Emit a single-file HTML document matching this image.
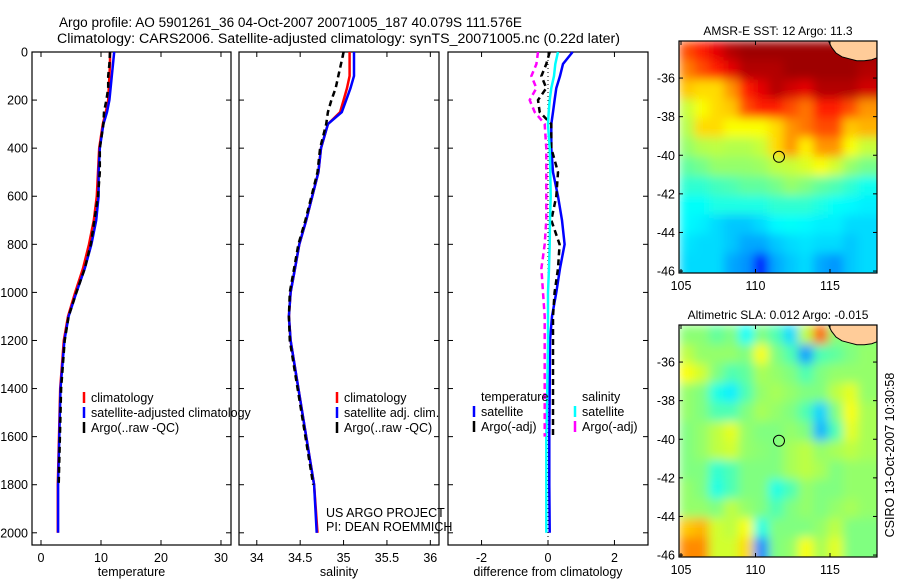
<!DOCTYPE html>
<html><head><meta charset="utf-8">
<style>
html,body{margin:0;padding:0;background:#fff;}
svg{display:block;font-family:"Liberation Sans",Arial,sans-serif;}
</style></head>
<body>
<svg id="fig" width="900" height="580" viewBox="0 0 900 580" xmlns="http://www.w3.org/2000/svg">
<defs>
<filter id="blur" x="0" y="0" width="1" height="1"><feGaussianBlur stdDeviation="5" edgeMode="duplicate"/></filter>
<clipPath id="clipSST"><rect x="679" y="41" width="198" height="232"/></clipPath>
<clipPath id="clipSLA"><rect x="679" y="325" width="198" height="232"/></clipPath>
</defs>
<g font-size="13.5" fill="#000">
<text x="59" y="27" textLength="463" lengthAdjust="spacingAndGlyphs">Argo profile: AO 5901261_36 04-Oct-2007 20071005_187 40.079S 111.576E</text>
<text x="57" y="43" textLength="563" lengthAdjust="spacingAndGlyphs">Climatology: CARS2006. Satellite-adjusted climatology: synTS_20071005.nc (0.22d later)</text>
</g>
<g id="plots"></g>
</svg>
<script>
// ---------------- data ----------------
const depths = [0,50,100,150,200,250,300,400,500,600,700,800,900,1000,1100,1200,1400,1600,1800,2000];
const tempClim = [11.5,11.5,11.4,11.3,11.2,10.8,10.3,9.7,9.5,9.3,8.8,8.0,7.0,5.7,4.5,3.8,3.2,3.0,2.8,2.8];
const tempSat  = [12.2,12.0,11.8,11.6,11.4,11.0,10.4,9.8,9.6,9.6,9.2,8.4,7.3,5.9,4.6,3.9,3.25,3.05,2.85,2.85];
const tempArgo = [11.5,11.4,11.2,11.2,10.9,10.5,10.4,9.8,9.8,9.5,8.9,8.3,7.3,5.9,4.6,3.95,3.35,3.15,2.95,null];
const salClim  = [35.07,35.07,35.07,35.04,35.0,34.96,34.82,34.74,34.71,34.64,34.57,34.49,34.44,34.39,34.37,34.39,34.48,34.57,34.66,34.70];
const salSat   = [35.12,35.12,35.12,35.08,35.03,34.98,34.82,34.74,34.71,34.64,34.57,34.49,34.44,34.39,34.37,34.39,34.48,34.57,34.66,34.69];
const salArgo  = [35.0,34.97,34.94,34.91,34.86,34.82,34.8,34.73,34.70,34.63,34.56,34.48,34.43,34.38,34.37,34.38,34.47,34.56,34.65,null];
const dTempSat = [0.74,0.45,0.36,0.25,0.2,0.15,0.1,0.1,0.15,0.3,0.42,0.5,0.36,0.25,0.12,0.06,0.05,0.04,0.04,0.05];
const dTempArgo= [0.05,-0.05,-0.2,-0.05,-0.3,-0.25,0.1,0.1,0.3,0.25,0.1,0.35,0.3,0.2,0.15,0.15,0.15,0.15,null,null];
const dSalSat  = [0.3,0.22,0.18,0.1,0.05,0.02,0.0,0.05,0.07,0.08,0.06,0.05,0.03,0.0,0.0,0.0,-0.02,-0.05,-0.05,-0.05];
const dSalArgo = [-0.3,-0.35,-0.5,-0.35,-0.55,-0.4,-0.1,-0.05,-0.05,-0.05,-0.05,-0.1,-0.2,-0.15,-0.1,-0.1,-0.1,-0.1,null,null];
const depthTicks = [0,200,400,600,800,1000,1200,1400,1600,1800,2000];
const tempTicks = [0,10,20,30];
const salTicks = [34,34.5,35,35.5,36];
const salTickLabels = ["34","34.5","35","35.5","36"];
const diffTicks = [-2,0,2];
// maps: rows lat -34..-46 (1 deg), cols lon 105..118 (1 deg); values normalised on jet colormap 0..1
const mapLonStart = 104.87, mapLatStart = -34.08;
const sstGrid = [
[0.8,0.85,0.9,0.95,0.97,0.97,0.97,0.97,0.97,0.97,0.97,0.97,0.97,0.97],
[0.75,0.8,0.85,0.9,0.95,0.95,0.95,0.97,0.97,0.97,0.97,0.97,0.95,0.95],
[0.68,0.66,0.66,0.73,0.85,0.9,0.95,0.92,0.9,0.95,0.95,0.95,0.92,0.92],
[0.57,0.62,0.66,0.68,0.8,0.85,0.85,0.8,0.76,0.85,0.85,0.8,0.73,0.73],
[0.55,0.66,0.66,0.62,0.62,0.62,0.66,0.73,0.76,0.8,0.8,0.68,0.7,0.7],
[0.52,0.55,0.56,0.55,0.55,0.57,0.66,0.73,0.64,0.73,0.73,0.62,0.57,0.57],
[0.47,0.49,0.52,0.52,0.52,0.53,0.56,0.57,0.59,0.62,0.58,0.52,0.49,0.49],
[0.42,0.42,0.44,0.45,0.47,0.47,0.49,0.52,0.5,0.47,0.45,0.42,0.39,0.39],
[0.38,0.38,0.4,0.4,0.4,0.4,0.42,0.42,0.42,0.4,0.38,0.37,0.36,0.36],
[0.37,0.36,0.34,0.32,0.32,0.34,0.37,0.38,0.37,0.36,0.36,0.34,0.34,0.34],
[0.35,0.34,0.34,0.32,0.29,0.29,0.32,0.34,0.35,0.34,0.34,0.32,0.34,0.34],
[0.34,0.34,0.34,0.29,0.27,0.14,0.29,0.32,0.34,0.29,0.27,0.32,0.34,0.34],
[0.34,0.34,0.34,0.29,0.27,0.14,0.29,0.32,0.34,0.29,0.27,0.32,0.34,0.34]];
const slaGrid = [
[0.51,0.51,0.47,0.5,0.38,0.5,0.45,0.34,0.56,0.78,0.51,0.51,0.51,0.51],
[0.56,0.52,0.52,0.52,0.5,0.62,0.5,0.45,0.28,0.45,0.47,0.5,0.52,0.52],
[0.62,0.58,0.5,0.45,0.47,0.54,0.52,0.5,0.45,0.5,0.52,0.52,0.52,0.52],
[0.52,0.5,0.4,0.36,0.45,0.52,0.54,0.52,0.5,0.5,0.56,0.6,0.52,0.52],
[0.52,0.5,0.45,0.45,0.5,0.54,0.52,0.5,0.45,0.33,0.5,0.62,0.54,0.54],
[0.5,0.52,0.56,0.6,0.52,0.5,0.5,0.52,0.5,0.3,0.45,0.6,0.54,0.54],
[0.5,0.52,0.56,0.58,0.52,0.51,0.5,0.54,0.56,0.52,0.54,0.56,0.54,0.54],
[0.5,0.5,0.42,0.45,0.5,0.5,0.5,0.54,0.56,0.54,0.5,0.52,0.52,0.52],
[0.52,0.5,0.4,0.45,0.5,0.5,0.4,0.45,0.52,0.5,0.5,0.52,0.52,0.52],
[0.52,0.52,0.5,0.56,0.52,0.5,0.45,0.5,0.52,0.5,0.52,0.54,0.52,0.52],
[0.68,0.7,0.58,0.56,0.62,0.4,0.5,0.5,0.5,0.52,0.56,0.5,0.5,0.5],
[0.74,0.74,0.58,0.58,0.66,0.26,0.5,0.52,0.62,0.54,0.6,0.5,0.5,0.5],
[0.74,0.74,0.58,0.58,0.66,0.26,0.5,0.52,0.62,0.54,0.6,0.5,0.5,0.5]];
const coastLon = [114.9,115.1,115.4,115.8,116.3,116.8,117.3,117.8,118.15,118.15,114.9];
const coastLat = [-34.08,-34.4,-34.7,-34.9,-35.0,-35.1,-35.1,-35.05,-34.95,-34.08,-34.08];
const argoLon = 111.576, argoLat = -40.079;
const mapLonTicks = [105,110,115];
const mapLatTicks = [-36,-38,-40,-42,-44,-46];

// ---------------- helpers ----------------
const NS = "http://www.w3.org/2000/svg";
const root = document.getElementById('plots');
function mk(tag, attrs, parent){ const e=document.createElementNS(NS,tag); for(const k in attrs) e.setAttribute(k,attrs[k]); (parent||root).appendChild(e); return e; }
const yTop=52, yPer=0.2404;
function yD(d){ return yTop + d*yPer; }
function jet(v){
  v=Math.max(0,Math.min(1,v));
  const r=Math.max(0,Math.min(1,Math.min(4*v-1.5,-4*v+4.5)));
  const g=Math.max(0,Math.min(1,Math.min(4*v-0.5,-4*v+3.5)));
  const b=Math.max(0,Math.min(1,Math.min(4*v+0.5,-4*v+2.5)));
  return `rgb(${Math.round(r*255)},${Math.round(g*255)},${Math.round(b*255)})`;
}

function panel(name,x0,x1,vmin,vmax,ticks,tickLabels,xlabel,showY){
  const g=mk('g',{});
  
  
  const xs=v=>x0+(v-vmin)/(vmax-vmin)*(x1-x0);
  const box=mk('rect',{x:x0,y:52,width:x1-x0,height:493,fill:'none',stroke:'#000','stroke-width':1.2},g);
  
  
  ticks.forEach((t,i)=>{
    const X=xs(t);
    mk('line',{x1:X,x2:X,y1:545,y2:540,stroke:'#000'},g);
    mk('line',{x1:X,x2:X,y1:52,y2:57,stroke:'#000'},g);
    const tl=mk('text',{x:X,y:562,'font-size':12.5,'text-anchor':'middle'},g);
    tl.textContent=tickLabels[i];
    
    
  });
  depthTicks.forEach(d=>{
    const Y=yD(d);
    mk('line',{x1:x0,x2:x0+5,y1:Y,y2:Y,stroke:'#000'},g);
    mk('line',{x1:x1,x2:x1-5,y1:Y,y2:Y,stroke:'#000'},g);
    if(showY){
      const tl=mk('text',{x:28,y:Y+4.5,'font-size':12.5,'text-anchor':'end'},g);
      tl.textContent=String(d);
      
      
    }
  });
  const xl=mk('text',{x:(x0+x1)/2,y:576,'font-size':12.5,'text-anchor':'middle'},g);
  xl.textContent=xlabel;
  
  
  return {g,xs};
}
function series(p,vals,color,dash,width,nm){
  let d='';
  depths.forEach((dep,i)=>{ const v=vals[i]; if(v===null||v===undefined) return; d+=(d?'L':'M')+p.xs(v).toFixed(1)+','+yD(dep).toFixed(1); });
  const a={d:d,fill:'none',stroke:color,'stroke-width':width};
  if(dash) a['stroke-dasharray']=dash;
  const e=mk('path',a,p.g);
  
  
}
function legend(p,x,y,items){
  items.forEach((it,i)=>{
    const Y=y+i*15;
    if(it.c){ mk('line',{x1:x,x2:x,y1:Y-10,y2:Y+1,stroke:it.c,'stroke-width':2.5},p.g); }
    const t=mk('text',{x:x+7,y:Y,'font-size':12.5},p.g);
    t.textContent=it.t;
    
    
  });
}

const pT=panel('temperature',32,231,-1.5,31.67,tempTicks,tempTicks.map(String),'temperature',true);
series(pT,tempClim,'#f00',null,2.5,'temp-climatology-line');
series(pT,tempSat,'#00f',null,2.5,'temp-satellite-line');
series(pT,tempArgo,'#000','6,4',2.5,'temp-argo-line');
legend(pT,84,402,[{c:'#f00',t:'climatology'},{c:'#00f',t:'satellite-adjusted climatology'},{c:'#000',t:'Argo(..raw -QC)'}]);
const pS=panel('salinity',239,439,33.795,36.1,salTicks,salTickLabels,'salinity',false);
series(pS,salClim,'#f00',null,2.5,'sal-climatology-line');
series(pS,salSat,'#00f',null,2.5,'sal-satellite-line');
series(pS,salArgo,'#000','6,4',2.5,'sal-argo-line');
legend(pS,337,402,[{c:'#f00',t:'climatology'},{c:'#00f',t:'satellite adj. clim.'},{c:'#000',t:'Argo(..raw -QC)'}]);
const cr=mk('g',{'font-size':12.5},pS.g);


mk('text',{x:326,y:517},cr).textContent='US ARGO PROJECT';
mk('text',{x:326,y:531},cr).textContent='PI: DEAN ROEMMICH';
const pD=panel('difference',448,648,-3.01,3.01,diffTicks,diffTicks.map(String),'difference from climatology',false);
const zl=mk('line',{x1:pD.xs(0),x2:pD.xs(0),y1:52,y2:545,stroke:'#000','stroke-dasharray':'1,3'},pD.g);


series(pD,dTempSat,'#00f',null,2.5,'diff-temp-satellite-line');
series(pD,dTempArgo,'#000','6,4',2.5,'diff-temp-argo-line');
series(pD,dSalSat,'#0ff',null,2.5,'diff-sal-satellite-line');
series(pD,dSalArgo,'#f0f','6,4',2.5,'diff-sal-argo-line');
legend(pD,474,401,[{t:'temperature'},{c:'#00f',t:'satellite'},{c:'#000',t:'Argo(-adj)'}]);
legend(pD,575,401,[{t:'salinity'},{c:'#0ff',t:'satellite'},{c:'#f0f',t:'Argo(-adj)'}]);

function map(name,top,grid,clip,title){
  const g=mk('g',{});
  
  
  const x0=679,x1=877,h=232;
  const lx=lon=>681+(lon-105)*14.9;
  const ly=lat=>top+(mapLatStart-lat)*19.3;
  const cg=mk('g',{'clip-path':'url(#'+clip+')'},g);
  const fg=mk('g',{filter:'url(#blur)'},cg);
  grid.forEach((row,r)=>row.forEach((v,c)=>{
    const X=lx(mapLonStart+c), Y=ly(mapLatStart-r);
    const cell=mk('rect',{x:X.toFixed(1),y:Y.toFixed(1),width:15.5,height:20,fill:jet(v)},fg);
    
    
  }));
  let d='';
  coastLon.forEach((lo,i)=>{ d+=(i?'L':'M')+lx(lo).toFixed(1)+','+ly(coastLat[i]).toFixed(1); });
  const land=mk('path',{d:d+'Z',fill:'#ffcc99',stroke:'#000','stroke-width':1},cg);
  
  
  const bx=mk('rect',{x:x0,y:top,width:x1-x0,height:h,fill:'none',stroke:'#000','stroke-width':1.2},g);
  
  
  const c=mk('circle',{cx:lx(argoLon),cy:ly(argoLat),r:5.5,fill:'none',stroke:'#000','stroke-width':1},g);
  
  
  mapLonTicks.forEach(t=>{
    const X=lx(t);
    mk('line',{x1:X,x2:X,y1:top+h,y2:top+h-4,stroke:'#000'},g);
    mk('line',{x1:X,x2:X,y1:top,y2:top+4,stroke:'#000'},g);
    const tl=mk('text',{x:X,y:top+h+17,'font-size':12.5,'text-anchor':'middle'},g);
    tl.textContent=String(t);
    
    
  });
  mapLatTicks.forEach(t=>{
    const Y=ly(t);
    mk('line',{x1:x0,x2:x0+4,y1:Y,y2:Y,stroke:'#000'},g);
    mk('line',{x1:x1,x2:x1-4,y1:Y,y2:Y,stroke:'#000'},g);
    const tl=mk('text',{x:675,y:Y+4.5,'font-size':12.5,'text-anchor':'end'},g);
    tl.textContent=String(t);
    
    
  });
  const tt=mk('text',{x:(x0+x1)/2,y:top-6,'font-size':12,'text-anchor':'middle'},g);
  tt.textContent=title;
  
  
}
map('sst',41,sstGrid,'clipSST','AMSR-E SST: 12 Argo: 11.3');
map('sla',325,slaGrid,'clipSLA','Altimetric SLA: 0.012 Argo: -0.015');
const st=mk('text',{x:0,y:0,'font-size':12.5,'text-anchor':'middle',transform:'translate(894,455) rotate(-90)'});
st.textContent='CSIRO 13-Oct-2007 10:30:58';


</script>
</body></html>
